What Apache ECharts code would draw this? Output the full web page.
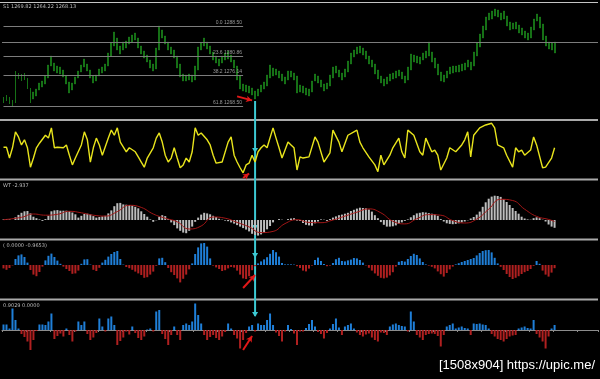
<!DOCTYPE html>
<html>
<head>
<meta charset="utf-8">
<script src="https://cdn.jsdelivr.net/npm/echarts@6/dist/echarts.min.js"></script>
<style>html,body{margin:0;padding:0;background:#000;}#c{width:600px;height:379px;}</style>
</head>
<body>
<div id="c"></div>
<script>
// ---- data ----
const slotCount = 199;
const slots = Array.from({length: slotCount}, (_, i) => String(i));

const priceLow = [1269.25,1269.75,1269.0,1268.5,1269.25,1275.25,1274.75,1275.0,1272.75,1269.25,
1270.25,1271.0,1272.5,1273.25,1274.0,1275.5,1278.5,1277.25,1276.75,1276.5,
1275.75,1274.0,1271.75,1272.5,1274.0,1275.5,1277.0,1278.25,1277.25,1275.5,
1274.25,1274.75,1276.0,1276.75,1277.25,1278.5,1281.0,1283.5,1282.5,1281.5,
1282.5,1283.0,1284.0,1284.5,1285.0,1283.0,1281.5,1280.5,1279.5,1278.0,
1277.25,1277.75,1282.5,1285.5,1284.0,1282.5,1281.5,1280.5,1278.0,1275.75,
1274.75,1274.75,1275.0,1274.5,1275.0,1277.5,1282.5,1283.5,1282.75,1281.5,
1280.0,1279.25,1278.5,1279.25,1280.0,1280.25,1279.5,1278.0,1275.0,1272.75,
1272.25,1272.0,1271.75,1271.25,1270.25,1271.0,1272.0,1272.75,1273.5,1275.5,
1276.0,1276.25,1275.5,1274.75,1274.0,1275.0,1275.75,1275.0,1271.75,1272.0,
1271.75,1271.25,1271.0,1272.0,1274.75,1274.25,1273.25,1272.25,1272.75,1273.5,
1275.5,1276.75,1275.75,1275.0,1275.75,1277.0,1279.0,1280.75,1281.5,1281.75,
1281.25,1280.25,1279.0,1278.25,1276.5,1275.25,1274.25,1273.5,1274.0,1274.75,
1275.25,1275.5,1276.0,1275.25,1274.25,1275.0,1277.5,1279.5,1279.25,1279.0,
1280.0,1280.5,1281.0,1279.5,1278.0,1276.25,1274.75,1274.5,1275.5,1276.5,
1276.75,1277.0,1277.0,1277.25,1277.5,1278.25,1277.5,1278.5,1281.0,1283.25,
1285.5,1287.5,1290.0,1290.25,1291.0,1290.75,1290.0,1290.25,1288.5,1287.5,
1287.75,1287.75,1286.75,1286.25,1285.5,1285.0,1285.5,1287.5,1289.75,1288.0,
1285.0,1283.5,1282.75,1282.5,1281.75];

const priceHigh = [1270.75,1271.25,1270.75,1270.0,1277.25,1276.75,1276.5,1276.75,1275.5,1273.0,
1272.0,1272.75,1274.25,1274.75,1276.0,1278.75,1281.0,1279.25,1278.5,1278.25,
1277.5,1276.0,1274.5,1274.25,1275.75,1277.25,1278.75,1280.25,1279.0,1277.5,
1276.0,1276.25,1277.75,1278.25,1279.0,1281.75,1284.25,1287.0,1285.5,1283.5,
1284.5,1284.75,1285.75,1286.25,1286.75,1285.5,1283.5,1282.25,1281.25,1280.0,
1279.0,1283.0,1288.5,1287.5,1286.0,1284.5,1283.25,1282.5,1281.0,1279.0,
1276.5,1276.25,1276.5,1276.25,1278.5,1283.25,1284.25,1285.5,1284.5,1283.5,
1282.0,1281.0,1280.25,1281.0,1281.75,1282.25,1281.25,1280.0,1278.5,1276.0,
1274.0,1273.75,1273.5,1273.0,1272.25,1272.75,1273.75,1274.5,1276.25,1278.75,
1278.0,1277.75,1277.25,1276.5,1275.75,1277.25,1277.25,1276.75,1276.0,1273.75,
1273.5,1273.0,1272.75,1274.75,1276.5,1276.0,1275.0,1274.0,1274.25,1276.25,
1278.25,1278.5,1277.5,1276.75,1277.75,1279.75,1281.75,1282.5,1283.25,1283.5,
1283.0,1282.25,1281.0,1280.0,1279.0,1277.5,1276.0,1275.25,1275.75,1276.5,
1276.75,1277.25,1277.5,1277.0,1276.0,1278.25,1281.5,1281.25,1281.0,1280.75,
1281.75,1282.25,1284.5,1282.0,1280.5,1279.0,1277.0,1276.25,1277.25,1278.25,
1278.5,1278.5,1278.75,1279.0,1279.25,1280.0,1279.5,1282.0,1284.25,1286.5,
1288.5,1290.75,1291.75,1292.25,1292.75,1292.5,1291.75,1292.25,1291.0,1289.5,
1289.25,1289.5,1288.75,1288.0,1287.25,1286.75,1288.25,1290.25,1291.5,1290.75,
1289.0,1286.0,1284.5,1284.25,1284.5];

const fibLevels = ['0.0', '23.6', '38.2', '61.8'];
const fibPrices = [1288.50, 1280.86, 1276.14, 1268.50];
const fibEndBar = 80;
const hLinePrice = 1284.5;

const yellowData = [[0,54],[1,54],[2,35],[3,53],[4,81],[5,72],[6,58],[7,67],[8,53],[9,19],[10,35],[11,53],[12,61],
[14,75],[15,70],[16,88],[17,53],[18,54],[20,53],[21,58],[22,40],[23,23],[24,35],
[26,58],[27,81],[28,67],[29,28],[30,53],[31,70],[32,58],[33,40],[35,70],[36,84],[37,75],[38,88],[39,63],
[41,46],[42,53],[44,46],[45,37],[46,28],[47,19],[48,35],
[50,53],[51,70],[52,79],[53,63],[54,40],[55,28],[56,35],[57,53],[58,35],[59,18],[60,23],[61,35],[62,28],[63,46],[64,88],[65,75],[66,79],
[68,67],[69,58],[70,40],[71,26],[73,28],
[75,63],[76,72],[77,40],[78,28],[79,18],[80,9],[81,23],[82,26],[83,40],[84,28],[85,46],[86,53],[87,58],[88,53],
[90,88],[91,70],[92,53],[93,35],[95,63],[96,58],[97,53],[98,14],[99,37],[100,35],[102,37],[104,72],[105,63],
[107,28],[109,44],[110,84],[112,63],[113,46],[115,75],[117,81],[118,84],[119,63],[120,53],[122,37],
[124,23],[125,11],[126,40],[127,23],[129,40],[130,53],[132,70],[133,46],[134,35],[135,84],[137,75],
[139,46],[140,40],[141,70],[143,46],[144,49],[145,40],[146,14],[148,35],[149,53],[151,46],
[153,58],[154,67],[155,81],[156,37],[157,75],[159,88],[161,93],[163,96],[164,88],[165,58],[167,53],[168,40],
[170,19],[171,53],[172,46],[173,49],[174,40],[176,49],[177,72],[178,58],[180,18],[181,19],[183,35],[184,53]];

const wtHist = [0.2,0.3,0.2,0.0,0.9,1.7,2.4,2.9,3.0,2.2,
1.1,0.6,0.2,-0.3,0.3,1.4,2.9,3.2,3.3,3.1,
3.1,3.1,2.9,2.5,1.9,0.8,1.4,2.0,2.1,1.9,
1.3,0.8,1.0,1.2,1.4,2.2,3.2,4.6,5.6,5.7,
5.2,5.1,5.0,4.8,4.4,3.9,2.9,2.0,1.1,0.2,
-0.6,-0.1,1.1,1.6,1.3,0.3,-0.8,-1.7,-2.8,-3.6,
-4.2,-4.4,-3.6,-2.2,-0.6,0.8,1.8,2.4,2.2,1.9,
1.4,1.0,0.4,0.1,-0.2,-0.4,-0.8,-1.2,-1.7,-2.2,
-2.7,-3.2,-3.8,-4.6,-5.0,-5.2,-4.8,-4.2,-3.1,-2.0,
-0.8,0.0,0.3,0.1,0.0,0.3,0.5,0.6,-0.2,-0.3,
-1.0,-1.6,-1.8,-1.9,-1.1,-0.5,0.2,0.1,-0.3,0.3,
0.8,1.2,1.6,1.8,2.1,2.4,3.0,3.4,3.8,4.1,
4.0,3.9,3.5,2.8,1.6,0.6,-0.7,-1.6,-2.2,-2.2,
-2.1,-1.8,-1.3,-0.8,-0.3,0.2,0.9,1.6,2.2,2.4,
2.6,2.5,2.3,2.1,1.9,1.4,0.3,-0.5,-1.1,-1.3,
-1.4,-1.3,-1.1,-0.8,-0.5,-0.1,0.5,1.0,1.8,2.8,
4.4,5.9,7.1,7.8,8.1,8.0,7.7,7.0,6.0,5.0,
4.0,3.0,2.1,1.1,0.5,0.2,0.1,0.6,0.9,0.6,
0.1,-0.5,-1.5,-2.2,-2.6];

const wtSignal = [[0,0.1],[6,0.9],[10,2.0],[14,1.6],[18,1.9],[22,2.9],[26,2.4],[30,1.6],[34,1.3],[38,2.8],
[42,4.9],[46,4.2],[50,2.0],[54,0.6],[58,-0.6],[62,-3.0],[66,-2.0],[70,1.0],[74,0.6],[78,-0.8],
[82,-2.3],[86,-4.2],[90,-3.8],[94,-1.2],[98,0.1],[102,-0.8],[106,-0.9],[110,0.0],[114,1.3],[118,2.6],
[122,3.7],[126,2.4],[130,-0.4],[134,-1.3],[138,0.4],[142,1.8],[146,1.6],[150,-0.2],[154,-1.0],[158,0.3],
[162,3.6],[166,6.9],[170,6.5],[174,3.6],[178,1.2],[182,0.2],[184,-0.5]];

const momHist = [-1.7,-2.4,-1.5,-0.2,3.0,4.8,5.3,4.0,1.2,-2.5,
-4.8,-5.6,-3.5,-0.8,2.3,4.6,5.7,4.0,2.2,0.6,
-0.8,-2.0,-3.0,-4.4,-4.2,-2.8,0.6,2.8,2.9,0.2,
-2.4,-3.0,-1.4,1.2,2.6,4.2,5.5,6.5,7.0,3.0,
0.2,-1.0,-1.6,-2.4,-3.3,-4.2,-5.0,-6.4,-6.1,-4.8,
-3.3,-0.4,3.3,3.6,1.4,-1.5,-3.6,-5.0,-6.7,-8.7,
-6.9,-4.8,-2.2,0.8,5.5,8.8,10.8,11.0,9.2,3.3,
-0.3,-1.2,-2.0,-3.0,-2.6,-1.7,-1.0,-1.3,-2.8,-4.8,
-6.7,-7.0,-5.6,-2.6,-0.6,0.8,1.8,2.8,3.9,5.6,
7.5,6.4,4.2,1.0,0.3,0.3,0.3,0.2,-0.6,-1.5,
-2.8,-3.2,-1.8,-0.3,2.5,3.7,2.0,0.5,-0.6,-0.3,
1.0,2.9,3.6,2.0,1.8,2.3,2.7,3.5,3.3,2.5,
1.2,-0.2,-1.4,-2.8,-4.2,-5.4,-6.4,-6.7,-6.3,-5.2,
-3.6,-0.8,1.6,2.0,1.7,3.0,4.5,5.6,5.0,3.3,
1.5,0.3,-0.3,-0.9,-1.7,-3.2,-4.6,-5.8,-4.0,-2.2,
-0.8,0.3,0.9,1.5,2.0,2.5,3.0,3.5,4.8,6.0,
7.0,7.4,7.5,6.3,3.6,0.8,-0.9,-2.5,-4.5,-6.0,
-7.0,-6.4,-5.6,-4.5,-3.6,-3.0,-2.0,-0.4,2.0,0.6,
-2.8,-4.8,-5.8,-3.8,-1.6];

const volHist = [1.1,1.1,0.3,4.3,2.0,0.3,-0.8,-1.4,-2.3,-4.0,
-2.0,-0.2,1.1,1.1,1.0,1.7,3.3,-1.8,-1.2,-0.7,
-1.3,0.3,-1.0,-2.3,-0.3,1.7,1.0,1.7,-0.8,-2.0,
-1.5,-0.6,2.3,0.7,-0.3,2.3,2.7,1.0,-3.0,-2.2,
-1.5,-0.3,-0.9,0.7,-0.6,-1.6,-2.0,-1.3,0.1,0.3,
-0.3,3.7,4.0,-0.8,-1.8,-3.0,-1.0,0.7,-1.0,-2.0,
1.0,1.3,1.0,1.7,5.3,3.0,1.3,-1.0,-2.0,-1.4,
-1.0,-1.6,-2.0,-1.3,-0.4,1.3,0.3,-1.0,-1.7,-3.7,
-2.0,-0.6,0.7,1.0,-0.3,1.3,1.0,1.0,2.0,3.3,
1.0,-0.5,-1.2,-2.3,-0.3,1.0,0.2,-0.7,-3.0,-0.3,
-0.3,0.4,1.2,2.0,0.7,-0.4,-0.8,-1.7,-0.6,0.3,
1.2,2.3,0.5,-1.0,0.7,1.0,1.3,0.3,-0.5,-1.0,
-1.3,-0.9,-0.7,-1.5,-2.0,-2.3,-0.5,-0.6,-1.0,0.7,
1.1,1.3,1.0,0.8,0.7,-0.3,3.7,1.7,-1.0,-1.5,
-2.0,-1.0,-0.8,-0.7,-0.8,-1.2,-3.3,-1.0,0.7,1.0,
1.3,0.3,0.5,0.7,0.4,0.3,-1.0,1.3,1.2,1.3,
1.1,1.0,0.3,-0.8,-1.3,-1.8,-2.0,-2.3,-1.8,-1.3,
-1.1,-1.0,0.3,0.5,0.7,0.4,0.3,2.0,-0.8,-1.5,
-2.3,-3.7,-1.3,0.3,1.0];

const headerText = 'S1 1269.82 1264.22 1268.13';
const wtText = 'WT -2.937';
const momText = '( 0.0000 -0.9653)';
const volText = '0.9029 0.0000';
const markBar = 84;

// ---- chart ----
const chart = echarts.init(document.getElementById('c'), null, {renderer: 'canvas'});
const GREEN = '#1f961f', BLUE = '#1f7fd8', RED = '#b02020', ARROW = '#e01818';
const grids = [
  {left: 2, right: 2, top: 3, height: 115},
  {left: 2, right: 2, top: 121, height: 57},
  {left: 2, right: 2, top: 181, height: 57},
  {left: 2, right: 2, top: 241, height: 57},
  {left: 2, right: 2, top: 301, height: 56}
];
const yRanges = [[1265.5, 1294.25], [0, 100], [-6, 13], [-16.5, 12], [-5.4, 5.8]];

const xAxes = grids.map((g, i) => ({
  type: 'category', gridIndex: i, data: slots, boundaryGap: true,
  axisLine: {show: i === 4, lineStyle: {color: '#8c8c8c', width: 1}},
  axisTick: {show: i === 4, interval: 7, length: 2, lineStyle: {color: '#8c8c8c'}},
  axisLabel: {show: false}, splitLine: {show: false}
}));
const yAxes = yRanges.map((r, i) => ({type: 'value', gridIndex: i, min: r[0], max: r[1], show: false}));

const fibMark = fibPrices.map((p, i) => [
  {name: fibLevels[i] + ' ' + p.toFixed(2), coord: [0, p]},
  {coord: [fibEndBar, p]}
]);
fibMark.push({yAxis: hLinePrice, label: {show: false}});
fibMark.push([
  {coord: [78, 1270.9], symbol: 'none', lineStyle: {color: ARROW, width: 2}, label: {show: false}},
  {coord: [83, 1269.9], symbol: 'arrow', symbolSize: [5, 6]}
]);

function arrowMark(a, b) {
  return {
    silent: true, symbol: ['none', 'arrow'], symbolSize: [5, 6],
    lineStyle: {color: ARROW, width: 2, type: 'solid'}, label: {show: false},
    data: [[{coord: a}, {coord: b}]]
  };
}
const signColor = p => (p.value >= 0 ? BLUE : RED);

chart.setOption({
  backgroundColor: '#000',
  animation: false,
  grid: grids,
  xAxis: xAxes,
  yAxis: yAxes,
  series: [
    {
      type: 'candlestick', xAxisIndex: 0, yAxisIndex: 0, barWidth: 1.4,
      data: priceLow.map((l, i) => [l, priceHigh[i], l, priceHigh[i]]),
      itemStyle: {color: GREEN, color0: GREEN, borderColor: GREEN, borderColor0: GREEN, borderWidth: 0.5},
      markLine: {
        silent: true, symbol: 'none',
        lineStyle: {color: '#7c7c7c', width: 1, type: 'solid'},
        label: {show: true, position: 'insideEndTop', formatter: '{b}', color: '#9a9a9a', fontSize: 5, distance: 1},
        data: fibMark
      }
    },
    {
      type: 'line', xAxisIndex: 1, yAxisIndex: 1, data: yellowData, showSymbol: false, symbol: 'none',
      lineStyle: {color: '#e8e41c', width: 1.4},
      markLine: arrowMark([80, 0], [82, 8])
    },
    {
      type: 'bar', xAxisIndex: 2, yAxisIndex: 2, data: wtHist, barWidth: 2,
      itemStyle: {color: '#bdbdbd'}
    },
    {
      type: 'line', xAxisIndex: 2, yAxisIndex: 2, data: wtSignal, smooth: true, showSymbol: false, symbol: 'none',
      lineStyle: {color: '#a31616', width: 1}
    },
    {
      type: 'bar', xAxisIndex: 3, yAxisIndex: 3, data: momHist, barWidth: 2,
      itemStyle: {color: signColor},
      markLine: arrowMark([80, -11.5], [84, -5])
    },
    {
      type: 'bar', xAxisIndex: 4, yAxisIndex: 4, data: volHist, barWidth: 2,
      itemStyle: {color: signColor},
      markLine: arrowMark([80, -4], [83, -1.2])
    }
  ]
});

// ---- chrome: separators, texts, vertical marker ----
const sepStyle = {stroke: '#a9a9a9', lineWidth: 2};
const graphics = [
  {type: 'line', shape: {x1: 0, y1: 2.5, x2: 598, y2: 2.5}, style: {stroke: '#c4c4c4', lineWidth: 1}},
  {type: 'line', shape: {x1: 0, y1: 120, x2: 598, y2: 120}, style: sepStyle},
  {type: 'line', shape: {x1: 0, y1: 179.5, x2: 598, y2: 179.5}, style: sepStyle},
  {type: 'line', shape: {x1: 0, y1: 239.5, x2: 598, y2: 239.5}, style: sepStyle},
  {type: 'line', shape: {x1: 0, y1: 299.5, x2: 598, y2: 299.5}, style: sepStyle},
  {type: 'text', left: 3, top: 4, style: {text: headerText, fill: '#bdbdbd', font: '5px "DejaVu Sans"'}},
  {type: 'text', left: 3, top: 183, style: {text: wtText, fill: '#bdbdbd', font: '5px "DejaVu Sans"'}},
  {type: 'text', left: 3, top: 243, style: {text: momText, fill: '#bdbdbd', font: '5px "DejaVu Sans"'}},
  {type: 'text', left: 3, top: 303, style: {text: volText, fill: '#bdbdbd', font: '5px "DejaVu Sans"'}},
  {type: 'text', right: 5, top: 359, style: {text: '[1508x904] https://upic.me/', fill: '#ffffff', font: '13px "Liberation Sans"'}}
];
const cx = chart.convertToPixel({xAxisIndex: 0}, markBar);
const CYAN = '#3cc8d2';
graphics.push({type: 'line', shape: {x1: cx, y1: 101, x2: cx, y2: 316}, style: {stroke: CYAN, lineWidth: 2}});
[153, 230, 258, 317].forEach(y => {
  graphics.push({type: 'polygon', shape: {points: [[cx - 3, y - 5], [cx + 3, y - 5], [cx, y]]}, style: {fill: CYAN}});
});
chart.setOption({graphic: graphics});
</script>
</body>
</html>
